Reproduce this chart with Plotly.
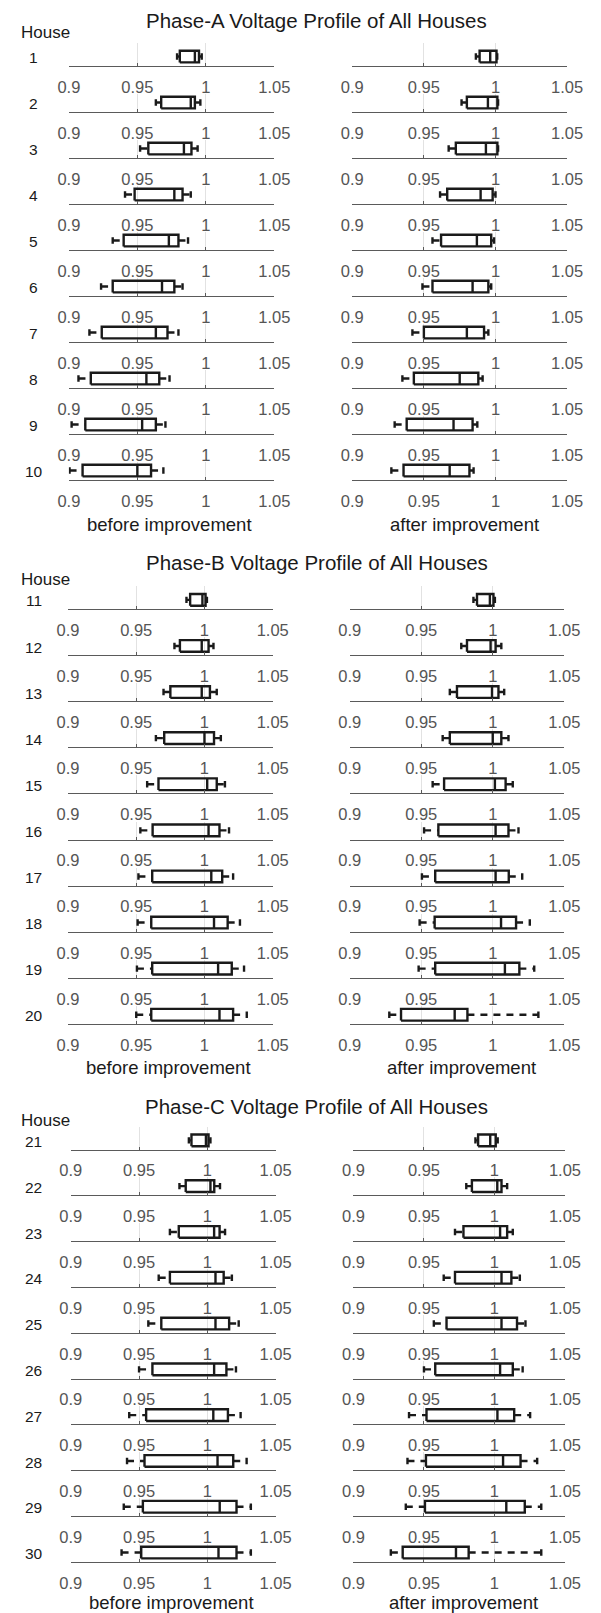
import plotly.graph_objects as go

W, H = 601, 1613

# ---------------------------------------------------------------------------
# Data: per-house voltage statistics (p.u.)
# lo = lower adjacent value, q1 / med / q3 = quartiles, hi = upper adjacent value
# ---------------------------------------------------------------------------
tick_vals = [0.9, 0.95, 1.0, 1.05]
tick_text = ["0.9", "0.95", "1", "1.05"]

houses_a = [1, 2, 3, 4, 5, 6, 7, 8, 9, 10]
houses_b = [11, 12, 13, 14, 15, 16, 17, 18, 19, 20]
houses_c = [21, 22, 23, 24, 25, 26, 27, 28, 29, 30]

# Phase A, before improvement
a_before_lo = [0.979, 0.9635, 0.952, 0.941, 0.932, 0.9235, 0.915, 0.907, 0.902, 0.9005]
a_before_q1 = [0.981, 0.9674, 0.958, 0.948, 0.940, 0.932, 0.924, 0.916, 0.912, 0.910]
a_before_med = [0.992, 0.989, 0.984, 0.977, 0.973, 0.968, 0.9635, 0.9566, 0.9535, 0.950]
a_before_q3 = [0.995, 0.992, 0.9895, 0.983, 0.980, 0.977, 0.972, 0.966, 0.9635, 0.960]
a_before_hi = [0.997, 0.996, 0.994, 0.989, 0.987, 0.983, 0.980, 0.9735, 0.9705, 0.969]

# Phase A, after improvement
a_after_lo = [0.9863, 0.9763, 0.9673, 0.9613, 0.956, 0.949, 0.942, 0.935, 0.9296, 0.9273]
a_after_q1 = [0.9889, 0.980, 0.9723, 0.9663, 0.962, 0.956, 0.950, 0.943, 0.938, 0.9358]
a_after_med = [0.9963, 0.9947, 0.9933, 0.9896, 0.987, 0.984, 0.980, 0.975, 0.9707, 0.968]
a_after_q3 = [1.0007, 1.0013, 1.0013, 0.998, 0.997, 0.995, 0.992, 0.988, 0.984, 0.9818]
a_after_hi = [1.0012, 1.0018, 1.0018, 1.000, 0.999, 0.997, 0.995, 0.991, 0.9873, 0.9847]

# Phase B, before improvement
b_before_lo = [0.9868, 0.978, 0.970, 0.9644, 0.958, 0.953, 0.9516, 0.951, 0.9505, 0.950]
b_before_q1 = [0.9895, 0.982, 0.975, 0.9705, 0.9663, 0.962, 0.9617, 0.961, 0.9617, 0.961]
b_before_med = [0.9985, 0.998, 0.998, 1.000, 1.002, 1.003, 1.005, 1.007, 1.010, 1.011]
b_before_q3 = [1.0008, 1.003, 1.004, 1.007, 1.009, 1.011, 1.013, 1.017, 1.020, 1.021]
b_before_hi = [1.0018, 1.0066, 1.009, 1.012, 1.015, 1.018, 1.021, 1.026, 1.029, 1.031]

# Phase B, after improvement
b_after_lo = [0.9865, 0.978, 0.970, 0.965, 0.958, 0.952, 0.9505, 0.9489, 0.9482, 0.9277]
b_after_q1 = [0.989, 0.982, 0.975, 0.970, 0.966, 0.962, 0.9598, 0.9594, 0.9598, 0.9359]
b_after_med = [0.998, 0.9985, 0.9995, 1.000, 1.0015, 1.002, 1.002, 1.0058, 1.0085, 0.9734]
b_after_q3 = [1.0005, 1.002, 1.004, 1.006, 1.009, 1.011, 1.0112, 1.0163, 1.0186, 0.9823]
b_after_hi = [1.0015, 1.006, 1.008, 1.011, 1.014, 1.018, 1.0206, 1.0259, 1.029, 1.0319]

# Phase C, before improvement
c_before_lo = [0.9865, 0.9796, 0.9726, 0.9644, 0.9568, 0.950, 0.9428, 0.9412, 0.9388, 0.9372]
c_before_q1 = [0.9884, 0.9842, 0.9791, 0.9726, 0.9663, 0.9598, 0.9552, 0.954, 0.9528, 0.9516]
c_before_med = [0.999, 1.0023, 1.005, 1.006, 1.006, 1.005, 1.0044, 1.0075, 1.0091, 1.0082]
c_before_q3 = [1.0009, 1.0051, 1.009, 1.012, 1.016, 1.014, 1.0151, 1.019, 1.0214, 1.0214]
c_before_hi = [1.0023, 1.0093, 1.013, 1.018, 1.023, 1.021, 1.0244, 1.0288, 1.0319, 1.0319]

# Phase C, after improvement
c_after_lo = [0.9865, 0.980, 0.972, 0.964, 0.957, 0.950, 0.9394, 0.9383, 0.9371, 0.9265]
c_after_q1 = [0.9884, 0.984, 0.978, 0.972, 0.966, 0.958, 0.9518, 0.9514, 0.9507, 0.9349]
c_after_med = [0.997, 1.002, 1.004, 1.005, 1.005, 1.004, 1.0021, 1.0061, 1.0084, 0.9727]
c_after_q3 = [1.0009, 1.005, 1.009, 1.012, 1.016, 1.013, 1.014, 1.0185, 1.0215, 0.9817]
c_after_hi = [1.0023, 1.009, 1.013, 1.018, 1.022, 1.020, 1.0253, 1.0303, 1.0332, 1.0332]

# ---------------------------------------------------------------------------
# Page layout (pixel positions on the 601 x 1613 page)
# ---------------------------------------------------------------------------
phases = [
    dict(title="Phase-A Voltage Profile of All Houses", houses=houses_a,
         before=(a_before_lo, a_before_q1, a_before_med, a_before_q3, a_before_hi),
         after=(a_after_lo, a_after_q1, a_after_med, a_after_q3, a_after_hi),
         left=(60.6, 275.7), right=(357.3, 582.3),
         row0=65.7, step=46.0, title_y=21, house_y=33, xlabel_y=525),
    dict(title="Phase-B Voltage Profile of All Houses", houses=houses_b,
         before=(b_before_lo, b_before_q1, b_before_med, b_before_q3, b_before_hi),
         after=(b_after_lo, b_after_q1, b_after_med, b_after_q3, b_after_hi),
         left=(59.7, 274.0), right=(354.6, 579.3),
         row0=609.0, step=46.1, title_y=562.5, house_y=580, xlabel_y=1067),
    dict(title="Phase-C Voltage Profile of All Houses", houses=houses_c,
         before=(c_before_lo, c_before_q1, c_before_med, c_before_q3, c_before_hi),
         after=(c_after_lo, c_after_q1, c_after_med, c_after_q3, c_after_hi),
         left=(62.6, 277.0), right=(358.6, 580.0),
         row0=1149.5, step=45.8, title_y=1106.5, house_y=1120, xlabel_y=1602),
]

# strip geometry in pixels above each axis line
AX_H_FIRST = 23.0    # top strip of a phase (nothing above it)
AX_H = 18.0          # other strips stop just under the tick labels above
BOX_LO, BOX_HI = 3.3, 15.0
BOX_MID = (BOX_LO + BOX_HI) / 2
CAP_HALF = 3.2
FONT = "Liberation Sans, Arial, Helvetica, sans-serif"
INK = "#1a1a1a"
LW = 2.4
DASH = "7px,6px"


def px_x(x):
    return x / W


def px_y(y):
    return 1 - y / H


fig = go.Figure()
layout = {}
annotations = []
k = 0

for ph in phases:
    for col, (stats, span, xlabel) in enumerate(
            [(ph["before"], ph["left"], "before improvement"),
             (ph["after"], ph["right"], "after improvement")]):
        lo_s, q1_s, med_s, q3_s, hi_s = stats
        for i, house in enumerate(ph["houses"]):
            k += 1
            xa = "x" if k == 1 else f"x{k}"
            ya = "y" if k == 1 else f"y{k}"
            base = ph["row0"] + i * ph["step"]
            ah = AX_H_FIRST if i == 0 else AX_H
            lo, q1, med, q3, hi = lo_s[i], q1_s[i], med_s[i], q3_s[i], hi_s[i]

            # box outline, median and whisker end caps
            fig.add_trace(go.Scatter(
                x=[q1, q3, q3, q1, q1, None, med, med, None, lo, lo, None, hi, hi],
                y=[BOX_LO, BOX_LO, BOX_HI, BOX_HI, BOX_LO, None, BOX_LO, BOX_HI, None,
                   BOX_MID - CAP_HALF, BOX_MID + CAP_HALF, None,
                   BOX_MID - CAP_HALF, BOX_MID + CAP_HALF],
                mode="lines", line=dict(color=INK, width=LW),
                xaxis=xa, yaxis=ya, showlegend=False, hoverinfo="skip"))
            # dashed whiskers
            fig.add_trace(go.Scatter(
                x=[lo, q1], y=[BOX_MID, BOX_MID], mode="lines",
                line=dict(color=INK, width=LW, dash=DASH),
                xaxis=xa, yaxis=ya, showlegend=False, hoverinfo="skip"))
            fig.add_trace(go.Scatter(
                x=[q3, hi], y=[BOX_MID, BOX_MID], mode="lines",
                line=dict(color=INK, width=LW, dash=DASH),
                xaxis=xa, yaxis=ya, showlegend=False, hoverinfo="skip"))

            xname = "xaxis" if k == 1 else f"xaxis{k}"
            yname = "yaxis" if k == 1 else f"yaxis{k}"
            layout[xname] = dict(
                domain=[px_x(span[0]), px_x(span[1])], range=[0.9, 1.05],
                anchor=ya, tickvals=tick_vals, ticktext=tick_text,
                showgrid=True, gridcolor="#e2e2e2", gridwidth=1,
                showline=True, linecolor="#5a5a5a", linewidth=1,
                ticks="inside", ticklen=3, tickcolor="#5a5a5a",
                ticklabelstandoff=6,
                tickfont=dict(family=FONT, size=16.5, color="#555555"),
                zeroline=False, fixedrange=True)
            layout[yname] = dict(
                domain=[px_y(base), px_y(base - ah)], range=[0, ah],
                anchor=xa, visible=False, fixedrange=True)

            if col == 0:
                annotations.append(dict(
                    x=px_x(24), y=px_y(base - 8), xref="paper", yref="paper",
                    text=str(house), showarrow=False, xanchor="center", yanchor="middle",
                    font=dict(family=FONT, size=15.5, color=INK)))

        annotations.append(dict(
            x=px_x((span[0] + span[1]) / 2 + (-2 if col == 0 else 5)), y=px_y(ph["xlabel_y"]),
            xref="paper", yref="paper", text=xlabel, showarrow=False,
            xanchor="center", yanchor="middle",
            font=dict(family=FONT, size=18.5, color=INK)))

    annotations.append(dict(
        x=px_x(320), y=px_y(ph["title_y"]), xref="paper", yref="paper",
        text=ph["title"], showarrow=False, xanchor="center", yanchor="middle",
        font=dict(family=FONT, size=20.5, color=INK)))
    annotations.append(dict(
        x=px_x(36), y=px_y(ph["house_y"]), xref="paper", yref="paper",
        text="House", showarrow=False, xanchor="center", yanchor="middle",
        font=dict(family=FONT, size=17, color=INK)))

fig.update_layout(
    width=W, height=H, autosize=False,
    margin=dict(l=0, r=0, t=0, b=0),
    paper_bgcolor="white", plot_bgcolor="white",
    annotations=annotations, **layout)

fig.write_html("out.html")
